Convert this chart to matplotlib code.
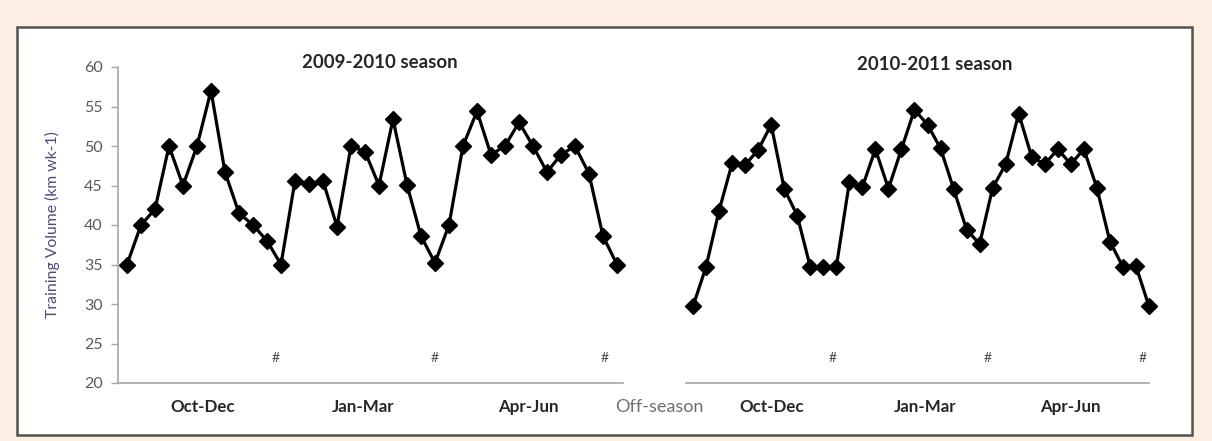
import matplotlib
matplotlib.use("Agg")
import matplotlib.pyplot as plt
from matplotlib.patches import Rectangle

plt.rcParams['font.family'] = ['Lato', 'DejaVu Sans']

# ---- data ----
season1_label = "2009-2010 season"
season2_label = "2010-2011 season"
season1 = [35, 40, 42, 50, 45, 50, 57, 46.7, 41.5, 40, 38, 35,
           45.6, 45.2, 45.6, 39.8, 50, 49.3, 45, 53.4, 45.1, 38.6, 35.2, 40,
           50, 54.4, 48.9, 50, 53, 50, 46.7, 48.9, 50, 46.5, 38.6, 35]
season2 = [29.7, 34.7, 41.8, 47.8, 47.6, 49.5, 52.7, 44.6, 41.2, 34.7, 34.7, 34.7,
           45.4, 44.8, 49.6, 44.6, 49.6, 54.6, 52.7, 49.7, 44.6, 39.4, 37.6, 44.7,
           47.7, 54.1, 48.6, 47.7, 49.6, 47.7, 49.6, 44.7, 37.9, 34.7, 34.8, 29.7]
quarters = ["Oct-Dec", "Jan-Mar", "Apr-Jun"]
offseason_label = "Off-season"
yticks = [20, 25, 30, 35, 40, 45, 50, 55, 60]
ylabel = "Training Volume (km wk-1)"
hash_s1 = [10.6, 22.0, 34.1]
hash_s2 = [10.7, 22.6, 34.5]

W, H = 1212, 441
fig = plt.figure(figsize=(W / 100, H / 100), dpi=100)
fig.patch.set_facecolor('#fdeee4')

def fx(px):
    return px / W

def fy(py):
    return 1 - py / H

# white framed panel (behind axes)
fig.patches.append(Rectangle((fx(17), fy(435)), fx(1192) - fx(17), fy(27) - fy(435),
                             transform=fig.transFigure, facecolor='white',
                             edgecolor='#555048', linewidth=1.8, zorder=-5))

bottom = fy(383)
height = fy(67) - fy(383)
ax1 = fig.add_axes([fx(118), bottom, fx(623) - fx(118), height])
ax2 = fig.add_axes([fx(686), bottom, fx(1149) - fx(686), height])

axis_col = '#a6a6a6'
tick_col = '#595959'

for ax, data in ((ax1, season1), (ax2, season2)):
    ax.patch.set_visible(False)
    x = list(range(len(data)))
    ax.plot(x, data, color='black', linewidth=2.3, marker='D', markersize=7.8,
            markerfacecolor='black', markeredgecolor='black', clip_on=False)
    ax.set_ylim(20, 60)
    for s in ('top', 'right'):
        ax.spines[s].set_visible(False)
    ax.spines['bottom'].set_color(axis_col)
    ax.spines['bottom'].set_linewidth(1.2)
    ax.set_xticks([])

ax1.set_xlim(-0.643, 35.43)
ax2.set_xlim(-0.537, 35.0)

ax1.spines['left'].set_color(axis_col)
ax1.spines['left'].set_linewidth(1.2)
ax1.set_yticks(yticks)
ax1.tick_params(axis='y', direction='out', length=5, width=1.0, color=axis_col,
                labelcolor=tick_col, labelsize=11.5, pad=6)
ax1.set_ylabel(ylabel, color='#4b4b82', fontsize=11.3, labelpad=17)

ax2.spines['left'].set_visible(False)
ax2.set_yticks([])

# hash marks
for xp in hash_s1:
    ax1.text(xp, 23.2, '#', ha='center', va='center', fontsize=10, color='#4a4a4a')
for xp in hash_s2:
    ax2.text(xp, 23.2, '#', ha='center', va='center', fontsize=10, color='#4a4a4a')

# titles
fig.text(fx(380), fy(63), season1_label, ha='center', va='center',
         fontsize=13.4, fontweight='bold', color='#262626')
fig.text(fx(935), fy(65), season2_label, ha='center', va='center',
         fontsize=13.4, fontweight='bold', color='#262626')

# quarter labels
for q, px in zip(quarters, [203, 363, 528]):
    fig.text(fx(px), fy(407), q, ha='center', va='center', fontsize=12.2,
             fontweight='bold', color='#262626')
for q, px in zip(quarters, [772, 925, 1070]):
    fig.text(fx(px), fy(407), q, ha='center', va='center', fontsize=12.2,
             fontweight='bold', color='#262626')
fig.text(fx(659), fy(407), offseason_label, ha='center', va='center', fontsize=13,
         color='#6e6e6e')

fig.savefig('out.png', dpi=100, facecolor=fig.get_facecolor())
